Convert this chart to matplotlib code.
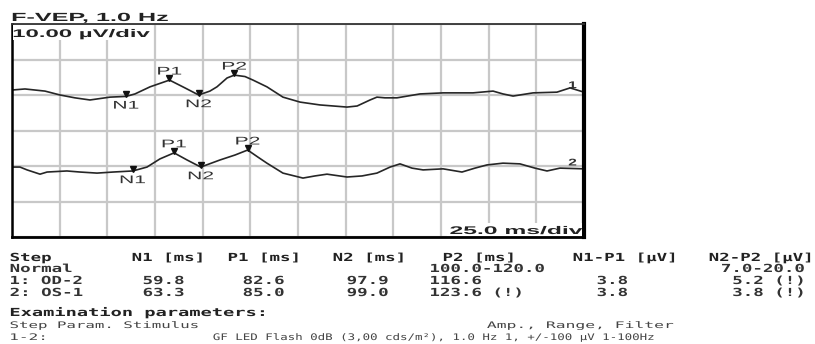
import numpy as np
import matplotlib
matplotlib.use("Agg")
import matplotlib.pyplot as plt
import matplotlib.patheffects as pe
import matplotlib.transforms as mtransforms
from matplotlib.patches import Rectangle

# --- data -------------------------------------------------------------------
t_od = [0, 6.8, 17.3, 25.2, 33.0, 40.9, 51.4, 59.8, 64.5, 72.4, 82.6, 90.7, 97.9,
        103.8, 107.5, 112.8, 116.6, 122.2, 126.4, 133.7, 142.1, 151.1, 161.5,
        175.7, 181.0, 187.8, 191.4, 195.6, 201.9, 214.0, 226.1, 241.8, 252.3,
        257.5, 262.8, 273.3, 285.8, 292.7, 300]
uv_od = [1.4, 1.7, 1.1, 0.0, -0.8, -1.4, -0.6, -0.4, 0.3, 2.3, 4.2, 2.0, 0.0,
         1.1, 2.3, 4.8, 5.6, 5.2, 4.2, 2.3, -0.6, -2.0, -2.8,
         -3.4, -3.1, -1.4, -0.6, -0.8, -0.8, 0.3, 0.6, 0.6, 1.1,
         0.3, -0.3, 0.6, 0.8, 2.0, 0.8]

t_os = [0, 4.2, 7.9, 14.7, 18.4, 28.8, 35.7, 44.6, 53.0, 63.3, 70.8, 77.6, 85.0,
        91.8, 99.0, 109.1, 117.0, 123.6, 129.0, 133.7, 142.1, 152.6, 158.9,
        165.2, 175.7, 183.6, 191.4, 198.3, 203.5, 209.8, 215.6, 226.1, 236.0,
        242.8, 249.1, 257.5, 266.4, 274.3, 280.6, 287.4, 300]
uv_os = [-0.3, -0.3, -1.1, -2.3, -1.7, -1.4, -1.7, -2.0, -1.7, -1.4, -0.3, 2.0, 3.7,
         1.7, -0.3, 1.7, 3.1, 4.5, 2.5, 0.8, -2.0, -3.4, -2.8,
         -2.3, -3.1, -2.8, -2.0, -0.3, 0.6, -0.6, -1.1, -0.8, -1.7,
         -0.6, 0.3, 0.8, 0.6, -0.6, -1.4, -0.6, -0.8]

peak_names = ["N1", "P1", "N2", "P2"]
lat_od = [59.8, 82.6, 97.9, 116.6]
lat_os = [63.3, 85.0, 99.0, 123.6]

header = ["Step", "N1 [ms]", "P1 [ms]", "N2 [ms]", "P2 [ms]", "N1-P1 [µV]", "N2-P2 [µV]"]
rows = [
    ["Normal", "", "", "", "100.0-120.0", "", "7.0-20.0"],
    ["1: OD-2", "59.8", "82.6", "97.9", "116.6", "3.8", "5.2 (!)"],
    ["2: OS-1", "63.3", "85.0", "99.0", "123.6 (!)", "3.8", "3.8 (!)"],
]

W, H = 815, 344


class Stretch(pe.AbstractPathEffect):
    """widen text horizontally (the reference image is stretched)"""
    def __init__(self, sx=None, width=None, anchor="left"):
        super().__init__()
        self.sx, self.width, self.anchor = sx, width, anchor

    def draw_path(self, renderer, gc, tpath, affine, rgbFace=None):
        ext = tpath.get_extents(affine)
        sx = self.sx if self.width is None else self.width / max(ext.width, 1)
        x0 = {"left": ext.x0, "center": (ext.x0 + ext.x1) / 2, "right": ext.x1}[self.anchor]
        aff = affine + mtransforms.Affine2D().translate(-x0, 0).scale(sx, 1).translate(x0, 0)
        renderer.draw_path(gc, tpath, aff, rgbFace)


def fx(x):
    return x / W


def fy(y):
    return 1 - y / H


fig = plt.figure(figsize=(W / 100, H / 100), dpi=100)
ax = fig.add_axes([12 / W, (H - 237) / H, 572 / W, 213 / H])
ax.set_xlim(0, 300)
ax.set_ylim(0, 60)
ax.set_xticks(np.arange(0, 301, 25))
ax.set_yticks(np.arange(0, 61, 10))
ax.tick_params(length=0, labelbottom=False, labelleft=False)
ax.grid(True, color="#c8c8c8", lw=1.6)
ax.set_axisbelow(True)
ax.spines["left"].set_linewidth(1.8)
ax.spines["right"].set_linewidth(3)
ax.spines["bottom"].set_linewidth(2)
ax.spines["top"].set_linewidth(1.3)
ax.spines["top"].set_color("#333333")
for s in ax.spines.values():
    s.set_zorder(5)

sans = "Liberation Sans"
mono = "DejaVu Sans Mono"
marker_tr = mtransforms.offset_copy(ax.transData, fig, y=2, units="dots")

for t, uv, lats, base, lbl in [(t_od, uv_od, lat_od, 40, "1"), (t_os, uv_os, lat_os, 20, "2")]:
    y = np.array(uv) + base
    ax.plot(t, y, color="#262626", lw=1.2, zorder=3)
    for name, lat in zip(peak_names, lats):
        yv = y[t.index(lat)]
        ax.plot(lat, yv, marker="v", ms=5, color="#111111", transform=marker_tr, zorder=4)
        if name.startswith("P"):
            ax.annotate(name, (lat, yv), xytext=(0, 4), textcoords="offset points",
                        ha="center", va="baseline", fontsize=8, family=sans, color="#333333",
                        path_effects=[Stretch(sx=1.9, anchor="center")])
        else:
            ax.annotate(name, (lat, yv), xytext=(0, -3), textcoords="offset points",
                        ha="center", va="top", fontsize=8, family=sans, color="#333333",
                        path_effects=[Stretch(sx=1.9, anchor="center")])
    ax.text(294, base + 2.8 if lbl == "1" else base + 1.0, lbl, ha="center", va="center",
            fontsize=7, weight="bold", family=sans, color="#333333",
            path_effects=[Stretch(sx=1.6, anchor="center")])

# title and scale labels
fig.text(fx(12), fy(21), "F-VEP, 1.0 Hz", fontsize=8.5, weight="bold", family=sans,
         color="#222222", va="baseline", path_effects=[Stretch(width=155)])
fig.add_artist(Rectangle((fx(13), fy(40)), (152 - 13) / W, 15 / H, transform=fig.transFigure,
                         facecolor="white", edgecolor="none", zorder=2))
fig.text(fx(13), fy(37), "10.00 µV/div", fontsize=8, weight="bold", family=sans,
         color="#222222", va="baseline", zorder=3, path_effects=[Stretch(width=136)])
fig.add_artist(Rectangle((fx(447), fy(235.5)), (582 - 447) / W, 12.5 / H, transform=fig.transFigure,
                         facecolor="white", edgecolor="none", zorder=2))
fig.text(fx(450), fy(234), "25.0 ms/div", fontsize=8, weight="bold", family=sans,
         color="#222222", va="baseline", zorder=3, path_effects=[Stretch(width=132)])

# results table
head_x = [10, 132, 228, 333, 443, 573, 813]
val_x = [10, 143, 243, 347, 430, 597, 805]
row_y = [272, 284, 296]
for i, txt in enumerate(header):
    ha = "right" if i == len(header) - 1 else "left"
    fig.text(fx(head_x[i]), fy(261), txt, fontsize=8, weight="bold", family=mono, color="#222222",
             ha=ha, va="baseline", path_effects=[Stretch(sx=1.57, anchor=ha)])
for r, row in enumerate(rows):
    for i, txt in enumerate(row):
        if not txt:
            continue
        ha = "right" if i == len(row) - 1 else "left"
        x = head_x[0] if i == 0 else val_x[i]
        fig.text(fx(x), fy(row_y[r]), txt, fontsize=8, weight="bold", family=mono, color="#333333",
                 ha=ha, va="baseline", path_effects=[Stretch(sx=1.57, anchor=ha)])

# examination parameters
fig.text(fx(10), fy(316), "Examination parameters:", fontsize=8, weight="bold", family=mono,
         color="#222222", va="baseline", path_effects=[Stretch(width=253)])
fig.text(fx(10), fy(328), "Step Param. Stimulus", fontsize=6.5, family=mono,
         color="#444444", va="baseline", path_effects=[Stretch(width=187)])
fig.text(fx(487), fy(328), "Amp., Range, Filter", fontsize=6.5, family=mono,
         color="#444444", va="baseline", path_effects=[Stretch(width=186)])
fig.text(fx(10), fy(340), "1-2:", fontsize=6.5, family=mono,
         color="#444444", va="baseline", path_effects=[Stretch(width=33)])
fig.text(fx(213), fy(340), "GF LED Flash 0dB (3,00 cds/m²), 1.0 Hz 1, +/-100 µV 1-100Hz",
         fontsize=6.5, family=mono, color="#444444", va="baseline",
         path_effects=[Stretch(width=440)])

fig.savefig("out.png", dpi=100)
